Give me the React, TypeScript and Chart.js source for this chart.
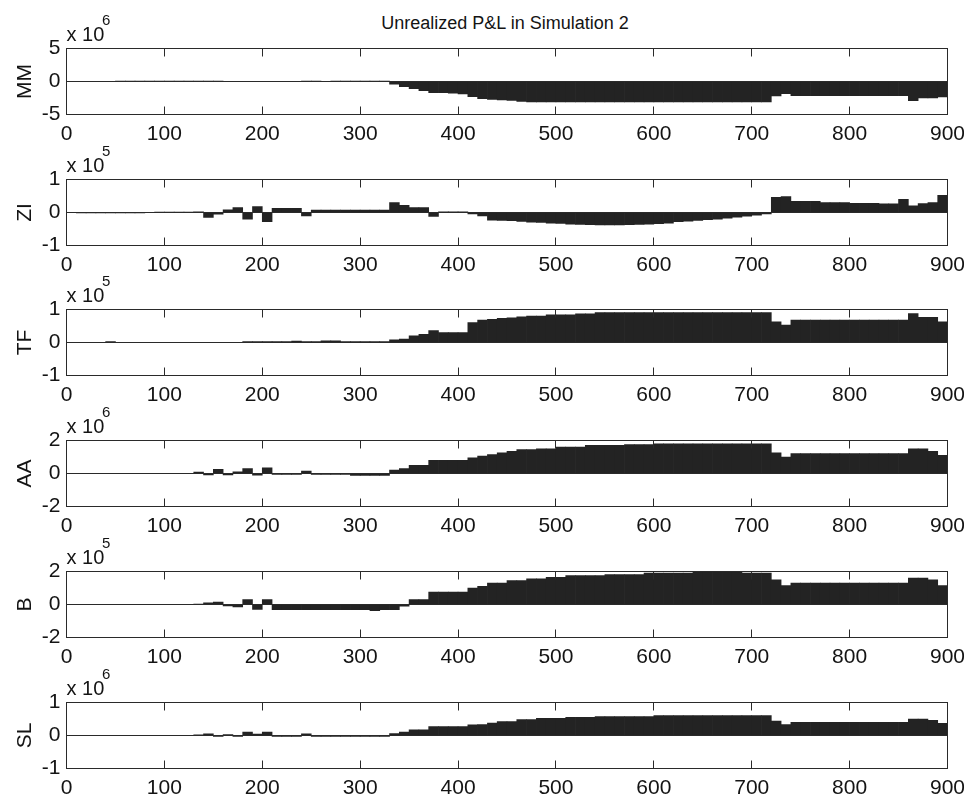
import React, { useEffect, useRef } from 'react';
import { Chart, registerables } from 'chart.js';

Chart.register(...registerables);

// ---------- data ----------
const stepCenters = [
  5, 15, 25, 35, 45, 55, 65, 75, 85, 95,
  105, 115, 125, 135, 145, 155, 165, 175, 185, 195,
  205, 215, 225, 235, 245, 255, 265, 275, 285, 295,
  305, 315, 325, 335, 345, 355, 365, 375, 385, 395,
  405, 415, 425, 435, 445, 455, 465, 475, 485, 495,
  505, 515, 525, 535, 545, 555, 565, 575, 585, 595,
  605, 615, 625, 635, 645, 655, 665, 675, 685, 695,
  705, 715, 725, 735, 745, 755, 765, 775, 785, 795,
  805, 815, 825, 835, 845, 855, 865, 875, 885, 895,
];
const xTickValues = [0, 100, 200, 300, 400, 500, 600, 700, 800, 900];

// MM, in units of 10^6
const mmValues = [
  0, 0, 0, 0, 0, 0.08, 0.08, 0.08, 0.08, 0.08,
  0.08, 0.08, 0.08, 0.08, 0.08, 0.08, 0, 0, 0, 0,
  0, 0, 0, 0, 0.05, 0.05, 0, 0.06, 0.06, 0.06,
  0.06, 0.06, 0.06, -0.4, -0.8, -1.1, -1.4, -1.7, -1.7, -1.75,
  -1.9, -2.3, -2.6, -2.7, -2.8, -2.85, -3.0, -3.1, -3.1, -3.1,
  -3.1, -3.1, -3.1, -3.1, -3.1, -3.1, -3.1, -3.1, -3.1, -3.1,
  -3.1, -3.1, -3.1, -3.1, -3.1, -3.1, -3.1, -3.1, -3.1, -3.1,
  -3.1, -3.1, -2.2, -1.85, -2.15, -2.15, -2.15, -2.15, -2.15, -2.15,
  -2.15, -2.15, -2.15, -2.15, -2.15, -2.15, -2.9, -2.5, -2.5, -2.35,
];
// ZI, in units of 10^5
const ziValues = [
  0, -0.01, -0.01, -0.01, -0.01, -0.01, -0.01, -0.01, 0, 0.01,
  0.01, 0.01, 0.01, 0.02, -0.15, -0.05, 0.08, 0.15, -0.2, 0.18,
  -0.28, 0.13, 0.13, 0.13, -0.1, 0.07, 0.07, 0.07, 0.07, 0.07,
  0.07, 0.07, 0.07, 0.3, 0.22, 0.15, 0.15, -0.12, 0.02, 0.02,
  0.02, -0.04, -0.1, -0.23, -0.24, -0.25, -0.27, -0.29, -0.3, -0.32,
  -0.33, -0.35, -0.36, -0.37, -0.38, -0.38, -0.38, -0.37, -0.36, -0.35,
  -0.34, -0.32, -0.28, -0.26, -0.24, -0.22, -0.2, -0.17, -0.14, -0.11,
  -0.08, -0.04, 0.46, 0.48, 0.34, 0.34, 0.34, 0.3, 0.3, 0.3,
  0.28, 0.28, 0.28, 0.26, 0.26, 0.4, 0.2, 0.27, 0.3, 0.52,
];
// TF, in units of 10^5
const tfValues = [
  0, 0, 0, 0, 0.03, 0, 0, 0, 0, 0,
  0, 0, 0, 0, 0, 0, 0, 0, 0.03, 0.03,
  0.03, 0.03, 0.03, 0.04, 0.03, 0.03, 0.05, 0.05, 0.03, 0.03,
  0.03, 0.03, 0.03, 0.08, 0.1, 0.2, 0.25, 0.36, 0.3, 0.3,
  0.3, 0.6, 0.68, 0.7, 0.73, 0.75, 0.78, 0.8, 0.8, 0.84,
  0.84, 0.84, 0.87, 0.87, 0.91, 0.91, 0.91, 0.91, 0.91, 0.91,
  0.91, 0.91, 0.91, 0.91, 0.91, 0.91, 0.91, 0.91, 0.91, 0.91,
  0.91, 0.91, 0.63, 0.53, 0.68, 0.68, 0.68, 0.68, 0.68, 0.68,
  0.68, 0.68, 0.68, 0.68, 0.68, 0.68, 0.88, 0.76, 0.76, 0.63,
];
// AA, in units of 10^6
const aaValues = [
  0, 0, 0, 0, 0, 0, 0, 0, 0, 0,
  0, 0, 0, 0.08, -0.08, 0.25, -0.08, 0.1, 0.3, -0.1,
  0.35, -0.05, -0.05, -0.05, 0.15, -0.05, -0.05, -0.05, -0.05, -0.12,
  -0.12, -0.12, -0.12, 0.2, 0.3, 0.5, 0.5, 0.8, 0.8, 0.8,
  0.8, 0.95, 1.05, 1.15, 1.25, 1.35, 1.45, 1.45, 1.5, 1.5,
  1.6, 1.6, 1.6, 1.7, 1.7, 1.7, 1.7, 1.75, 1.75, 1.75,
  1.8, 1.8, 1.8, 1.8, 1.8, 1.8, 1.8, 1.8, 1.8, 1.8,
  1.8, 1.8, 1.25, 1.0, 1.2, 1.2, 1.2, 1.2, 1.2, 1.2,
  1.2, 1.2, 1.2, 1.2, 1.2, 1.2, 1.5, 1.5, 1.35, 1.1,
];
// B, in units of 10^5
const bValues = [
  0, 0, 0, 0, 0, 0, 0, 0, 0, 0,
  0, 0, 0, 0.03, 0.1, 0.15, -0.08, -0.15, 0.3, -0.3,
  0.3, -0.32, -0.32, -0.32, -0.32, -0.32, -0.32, -0.32, -0.32, -0.32,
  -0.32, -0.38, -0.32, -0.32, -0.1, 0.3, 0.3, 0.75, 0.75, 0.75,
  0.75, 1.0, 1.1, 1.3, 1.3, 1.45, 1.45, 1.55, 1.55, 1.65,
  1.65, 1.75, 1.75, 1.75, 1.75, 1.82, 1.82, 1.82, 1.82, 1.9,
  1.9, 1.9, 1.9, 1.9, 1.95, 1.95, 1.95, 1.95, 1.95, 1.9,
  1.9, 1.9, 1.5, 1.15, 1.3, 1.3, 1.3, 1.3, 1.3, 1.3,
  1.3, 1.3, 1.3, 1.3, 1.3, 1.3, 1.6, 1.6, 1.5, 1.15,
];
// SL, in units of 10^6
const slValues = [
  0, 0, 0, 0, 0, 0, 0, 0, 0, 0,
  0, 0, 0, 0.02, 0.05, -0.03, 0.03, -0.03, 0.1, 0.04,
  0.1, -0.03, -0.03, -0.03, 0.05, -0.03, -0.03, -0.03, -0.03, -0.03,
  -0.03, -0.03, -0.03, 0.06, 0.1, 0.17, 0.17, 0.27, 0.27, 0.27,
  0.27, 0.32, 0.33, 0.38, 0.42, 0.42, 0.48, 0.48, 0.52, 0.52,
  0.52, 0.55, 0.55, 0.55, 0.57, 0.57, 0.57, 0.57, 0.57, 0.57,
  0.6, 0.6, 0.6, 0.6, 0.6, 0.6, 0.6, 0.6, 0.6, 0.6,
  0.6, 0.6, 0.44, 0.33, 0.4, 0.4, 0.4, 0.4, 0.4, 0.4,
  0.4, 0.4, 0.4, 0.4, 0.4, 0.4, 0.5, 0.5, 0.46, 0.37,
];

const mmTicks = [-5, 0, 5];
const ziTicks = [-1, 0, 1];
const tfTicks = [-1, 0, 1];
const aaTicks = [-2, 0, 2];
const bTicks = [-2, 0, 2];
const slTicks = [-1, 0, 1];

const panelNames = ['MM', 'ZI', 'TF', 'AA', 'B', 'SL'];
const panelExponents = ['6', '5', '5', '6', '5', '6'];
const panelValues = [mmValues, ziValues, tfValues, aaValues, bValues, slValues];
const panelTicks = [mmTicks, ziTicks, tfTicks, aaTicks, bTicks, slTicks];
const chartTitle = 'Unrealized P&L in Simulation 2';

// ---------- layout / style ----------
const FONT = '"Liberation Sans", Arial, Helvetica, sans-serif';
const INK = '#141414';
const BAR = '#232323';
const LINE = '#2a2a2a';
const panelTops = [48, 179, 309, 440, 571, 702];
const BOX_H = 66;
const PAD_TOP = 12.5;
const CANVAS_H = 110;
const CANVAS_W = 964;
const AXIS_W = 66.5;
const PAD_RIGHT = 16.5;
const TICK_LEN = 8;

const crisp = (v: number) => Math.round(v - 0.5) + 0.5;

const boxPlugin = {
  id: 'matlabBox',
  afterDatasetsDraw(chart: any) {
    const { ctx, chartArea: a, scales } = chart;
    const xs = scales.x;
    const ys = scales.y;
    ctx.save();
    ctx.strokeStyle = LINE;
    ctx.lineWidth = 1;
    // bar baseline
    const y0 = crisp(ys.getPixelForValue(0));
    ctx.beginPath();
    ctx.moveTo(a.left, y0);
    ctx.lineTo(a.right, y0);
    ctx.stroke();
    // box
    ctx.strokeRect(a.left, a.top, a.right - a.left, a.bottom - a.top);
    // inward ticks
    ctx.beginPath();
    xs.ticks.forEach((t: any) => {
      const px = crisp(xs.getPixelForValue(t.value));
      ctx.moveTo(px, a.top);
      ctx.lineTo(px, a.top + TICK_LEN);
      ctx.moveTo(px, a.bottom);
      ctx.lineTo(px, a.bottom - TICK_LEN);
    });
    ys.ticks.forEach((t: any) => {
      const py = crisp(ys.getPixelForValue(t.value));
      ctx.moveTo(a.left, py);
      ctx.lineTo(a.left + TICK_LEN, py);
      ctx.moveTo(a.right, py);
      ctx.lineTo(a.right - TICK_LEN, py);
    });
    ctx.stroke();
    ctx.restore();
  },
};

function Panel({ index }: { index: number }) {
  const ref = useRef<HTMLCanvasElement | null>(null);
  useEffect(() => {
    if (!ref.current) return;
    const values = panelValues[index];
    const ticks = panelTicks[index];
    const lim = Math.max(...ticks.map((v) => Math.abs(v)));
    const chart = new Chart(ref.current, {
      type: 'bar',
      data: {
        datasets: [
          {
            data: stepCenters.map((x, i) => ({ x, y: values[i] })),
            backgroundColor: BAR,
            borderWidth: 0,
            barPercentage: 1,
            categoryPercentage: 1,
          } as any,
        ],
      },
      options: {
        animation: false,
        responsive: false,
        events: [],
        layout: { padding: { top: PAD_TOP, right: PAD_RIGHT, left: 0, bottom: 0 } },
        plugins: {
          legend: { display: false },
          tooltip: { enabled: false },
          title: { display: false },
        },
        scales: {
          x: {
            type: 'linear',
            min: 0,
            max: 900,
            offset: false,
            grid: { display: false, drawTicks: false },
            border: { display: false },
            afterBuildTicks: (s: any) => {
              s.ticks = xTickValues.map((v) => ({ value: v }));
            },
            afterFit: (s: any) => {
              s.height = CANVAS_H - PAD_TOP - BOX_H;
              s.paddingLeft = 0;
              s.paddingRight = 0;
            },
            ticks: {
              font: { family: FONT, size: 21 },
              color: INK,
              padding: 7,
              maxRotation: 0,
              minRotation: 0,
              autoSkip: false,
              callback: (v: any) => String(v),
            },
          },
          y: {
            type: 'linear',
            min: -lim,
            max: lim,
            grid: { display: false, drawTicks: false },
            border: { display: false },
            afterBuildTicks: (s: any) => {
              s.ticks = ticks.map((v) => ({ value: v }));
            },
            afterFit: (s: any) => {
              s.width = AXIS_W;
              s.paddingTop = 0;
              s.paddingBottom = 0;
            },
            ticks: {
              font: { family: FONT, size: 21 },
              color: INK,
              padding: 6,
              callback: (v: any) => String(v),
            },
            title: {
              display: true,
              text: panelNames[index],
              font: { family: FONT, size: 21 },
              color: INK,
              padding: { top: 13, bottom: 0 },
            },
          },
        } as any,
      },
      plugins: [boxPlugin],
    });
    return () => chart.destroy();
  }, [index]);

  const top = panelTops[index];
  return (
    <>
      <canvas
        ref={ref}
        width={CANVAS_W}
        height={CANVAS_H}
        style={{
          position: 'absolute',
          left: 0,
          top: top - PAD_TOP + 0.5,
          width: CANVAS_W,
          height: CANVAS_H,
          display: 'block',
        }}
      />
      <div
        style={{
          position: 'absolute',
          left: 66.5,
          top: top - 24.2,
          font: `20px ${FONT}`,
          lineHeight: '20px',
          color: INK,
          whiteSpace: 'nowrap',
        }}
      >
        x 10
      </div>
      <div
        style={{
          position: 'absolute',
          left: 102,
          top: top - 36.3,
          font: `15px ${FONT}`,
          lineHeight: '15px',
          color: INK,
          whiteSpace: 'nowrap',
        }}
      >
        {panelExponents[index]}
      </div>
    </>
  );
}

export default function App() {
  return (
    <div
      style={{
        position: 'absolute',
        left: 0,
        top: 0,
        width: 964,
        height: 800,
        overflow: 'hidden',
        background: '#ffffff',
      }}
    >
      <div
        style={{
          position: 'absolute',
          left: 305,
          top: 14,
          width: 400,
          textAlign: 'center',
          font: `18px ${FONT}`,
          lineHeight: '18px',
          color: INK,
          whiteSpace: 'nowrap',
        }}
      >
        {chartTitle}
      </div>
      {panelNames.map((_, i) => (
        <Panel key={i} index={i} />
      ))}
    </div>
  );
}
